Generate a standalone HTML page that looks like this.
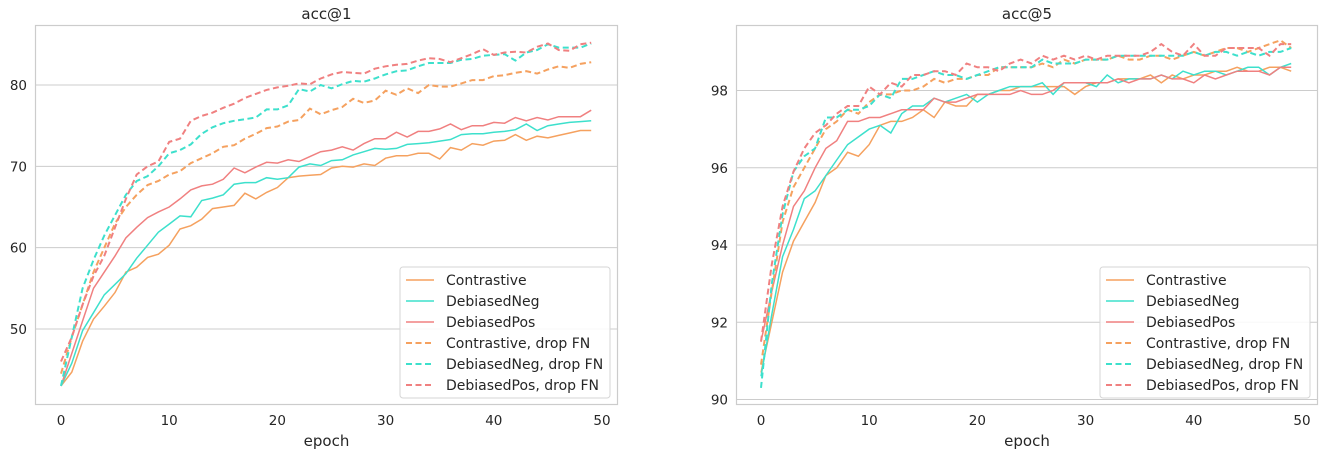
<!DOCTYPE html>
<html><head><meta charset="utf-8"><style>
body{margin:0;background:#fff;font-family:"Liberation Sans","DejaVu Sans",sans-serif;}
svg text{font-family:"DejaVu Sans","Liberation Sans",sans-serif;fill:#262626;}
</style></head><body>
<svg id="c" width="1325" height="455"></svg>
<script>
const epochs=[...Array(50).keys()];
const seriesNames=["Contrastive","DebiasedNeg","DebiasedPos","Contrastive, drop FN","DebiasedNeg, drop FN","DebiasedPos, drop FN"];
const a1Contrastive=[43,44.7,48.5,51.2,52.8,54.5,57,57.6,58.8,59.2,60.3,62.3,62.7,63.5,64.8,65,65.2,66.7,66,66.8,67.4,68.6,68.8,68.9,69,69.8,70,69.9,70.3,70.1,71,71.3,71.3,71.6,71.6,70.9,72.3,72,72.8,72.6,73.1,73.2,73.9,73.2,73.7,73.5,73.8,74.1,74.4,74.4];
const a1DebNeg=[43,45.8,49.8,52,54.2,55.5,56.8,58.7,60.3,61.9,62.9,63.9,63.8,65.8,66.1,66.5,67.8,68,68,68.6,68.4,68.6,69.9,70.3,70.1,70.7,70.8,71.4,71.8,72.2,72.1,72.2,72.7,72.8,72.9,73.1,73.3,73.9,74,74,74.2,74.3,74.5,75.2,74.4,75,75.2,75.4,75.5,75.6];
const a1DebPos=[43,47,51,55,57,59,61.2,62.5,63.7,64.4,65,66,67.1,67.6,67.8,68.4,69.8,69.2,69.9,70.5,70.4,70.8,70.6,71.2,71.8,72,72.4,72,72.8,73.4,73.4,74.2,73.6,74.3,74.3,74.6,75.2,74.5,75,75,75.4,75.3,76,75.6,76,75.7,76.1,76.1,76.1,76.9];
const a1ContrastiveFN=[44.5,49,53,57,60,63,65,66.5,67.7,68.2,69,69.4,70.4,71,71.6,72.4,72.6,73.4,74,74.7,74.9,75.5,75.7,77.1,76.4,76.9,77.3,78.3,77.8,78.1,79.3,78.8,79.6,79,80,79.8,79.8,80.2,80.6,80.6,81.1,81.2,81.5,81.7,81.4,81.9,82.3,82.1,82.6,82.8];
const a1DebNegFN=[43,49,55,58.5,61.5,64,66.5,68.2,68.8,70,71.6,72,72.7,74,74.8,75.3,75.6,75.8,76,77,77,77.5,79.5,79.2,80,79.6,80.1,80.5,80.4,80.8,81.3,81.7,81.8,82.3,82.7,82.7,82.7,83.1,83.2,83.6,83.7,83.8,83,84,84.3,85,84.6,84.6,84.6,85.1];
const a1DebPosFN=[46,49,53,56.5,59,62.5,66,69,70,70.6,73,73.4,75.6,76.2,76.6,77.2,77.7,78.4,78.9,79.4,79.7,79.9,80.2,80.1,80.8,81.3,81.6,81.5,81.4,82,82.3,82.5,82.6,83,83.3,83.2,82.8,83.3,83.8,84.4,83.7,84,84.1,84,84.7,85.1,84.3,84.2,85,85.2];
const a5Contrastive=[90.7,92,93.3,94.1,94.6,95.1,95.8,96,96.4,96.3,96.6,97.1,97.2,97.2,97.3,97.5,97.3,97.7,97.6,97.6,97.9,97.9,98,98,98.1,98.1,98.1,98.1,98.1,97.9,98.1,98.2,98.2,98.3,98.3,98.3,98.4,98.2,98.4,98.3,98.4,98.4,98.5,98.5,98.6,98.5,98.5,98.6,98.6,98.5];
const a5DebNeg=[90.6,92.2,93.7,94.4,95.2,95.4,95.8,96.2,96.6,96.8,97,97.1,96.9,97.4,97.6,97.6,97.8,97.7,97.8,97.9,97.7,97.9,98,98.1,98.1,98.1,98.2,97.9,98.2,98.2,98.2,98.1,98.4,98.2,98.3,98.3,98.3,98.4,98.3,98.5,98.4,98.5,98.5,98.4,98.5,98.6,98.6,98.4,98.6,98.7];
const a5DebPos=[91.5,92.8,94,95,95.4,96,96.5,96.7,97.2,97.2,97.3,97.3,97.4,97.5,97.5,97.5,97.8,97.7,97.7,97.8,97.9,97.9,97.9,97.9,98,97.9,97.9,98,98.2,98.2,98.2,98.2,98.2,98.3,98.2,98.3,98.3,98.4,98.3,98.3,98.2,98.4,98.3,98.4,98.5,98.5,98.5,98.4,98.6,98.6];
const a5ContrastiveFN=[90.9,92.8,94.6,95.5,96,96.5,97,97.2,97.5,97.4,97.7,97.9,97.9,98,98,98.1,98.3,98.2,98.3,98.3,98.4,98.4,98.6,98.6,98.6,98.6,98.7,98.6,98.8,98.7,98.8,98.8,98.8,98.9,98.8,98.8,98.9,98.9,98.8,98.9,99,98.9,99,99.1,99.1,99,99.1,99.2,99.3,99.1];
const a5DebNegFN=[90.3,93,94.8,95.9,96.3,96.5,97.3,97.3,97.5,97.5,97.6,97.9,97.8,98.3,98.3,98.4,98.5,98.4,98.4,98.3,98.4,98.5,98.6,98.6,98.6,98.6,98.8,98.7,98.7,98.7,98.8,98.8,98.8,98.9,98.9,98.9,98.9,98.9,98.9,98.9,99,98.9,99,99,98.9,99,98.9,99,99,99.1];
const a5DebPosFN=[91.5,93.5,95,95.9,96.5,96.9,97.1,97.4,97.6,97.6,98.1,97.9,98.2,98.1,98.4,98.4,98.5,98.5,98.4,98.7,98.6,98.6,98.5,98.7,98.8,98.7,98.9,98.8,98.9,98.8,98.9,98.8,98.9,98.9,98.9,98.9,99,99.2,99,98.9,99.2,98.9,98.9,99.1,99.1,99.1,99.1,98.9,99.2,99.2];
const xTicks=[0,10,20,30,40,50];
const yTicks1=[50,60,70,80];
const yTicks5=[90,92,94,96,98];

const colors=["#f5a15f","#3de0cc","#f08080","#f5a15f","#3de0cc","#f08080"];
const NS="http://www.w3.org/2000/svg";
const svg=document.getElementById('c');
function mk(t,a,p){const e=document.createElementNS(NS,t);for(const k in a)e.setAttribute(k,a[k]);(p||svg).appendChild(e);return e;}

function panel(cfg){
  const g=mk('g',{});
  
  
  const sx=v=>cfg.x0+(v-0)*(cfg.x50-cfg.x0)/50;
  const sy=v=>cfg.yA+(v-cfg.vA)*(cfg.yB-cfg.yA)/(cfg.vB-cfg.vA);
  cfg.yTicks.forEach(t=>{
    const l=mk('line',{x1:cfg.L,x2:cfg.R,y1:sy(t),y2:sy(t),stroke:'#cccccc','stroke-width':1},g);
    
    
    const tx=mk('text',{x:cfg.L-8,y:sy(t)+5,'text-anchor':'end','font-size':13.5},g);
    tx.textContent=t;
    
    
  });
  xTicks.forEach(t=>{
    const tx=mk('text',{x:sx(t),y:cfg.B+20,'text-anchor':'middle','font-size':13.5},g);
    tx.textContent=t;
    
    
  });
  const fr=mk('rect',{x:cfg.L+0.5,y:cfg.T+0.5,width:cfg.R-cfg.L-1,height:cfg.B-cfg.T-1,fill:'none',stroke:'#cccccc','stroke-width':1.2},g);
  
  
  cfg.data.forEach((arr,i)=>{
    const d=arr.map((v,j)=>(j?'L':'M')+sx(epochs[j]).toFixed(1)+','+sy(v).toFixed(1)).join(' ');
    const p=mk('path',{d:d,fill:'none',stroke:colors[i],'stroke-width':i<3?1.5:2,'stroke-dasharray':i<3?'none':'6,3.5'},g);
    
    
  });
  const tt=mk('text',{x:(cfg.L+cfg.R)/2,y:19,'text-anchor':'middle','font-size':15},g);
  tt.textContent=cfg.title;
  
  
  const xl=mk('text',{x:(cfg.L+cfg.R)/2,y:446,'text-anchor':'middle','font-size':15},g);
  xl.textContent='epoch';
  
  
  const lg=mk('g',{},g);
  
  
  mk('rect',{x:cfg.legX,y:267,width:210,height:131,rx:3,fill:'#fff','fill-opacity':0.85,stroke:'#d6d6d6'},lg);
  seriesNames.forEach((n,i)=>{
    const y=280+i*21;
    mk('line',{x1:cfg.legX+6,x2:cfg.legX+34,y1:y,y2:y,stroke:colors[i],'stroke-width':i<3?1.5:2,'stroke-dasharray':i<3?'none':'6,3.5'},lg);
    const t=mk('text',{x:cfg.legX+46,y:y+5,'font-size':14},lg);
    t.textContent=n;
    
    
  });
}
panel({name:'acc1-panel',title:'acc@1',L:35,R:618,T:25,B:405,x0:61,x50:602,vA:80,yA:85,vB:50,yB:329,yTicks:yTicks1,legX:400,
  data:[a1Contrastive,a1DebNeg,a1DebPos,a1ContrastiveFN,a1DebNegFN,a1DebPosFN]});
panel({name:'acc5-panel',title:'acc@5',L:736,R:1318,T:25,B:405,x0:761,x50:1302,vA:98,yA:90.5,vB:90,yB:399.5,yTicks:yTicks5,legX:1100,
  data:[a5Contrastive,a5DebNeg,a5DebPos,a5ContrastiveFN,a5DebNegFN,a5DebPosFN]});
</script>
</body></html>
